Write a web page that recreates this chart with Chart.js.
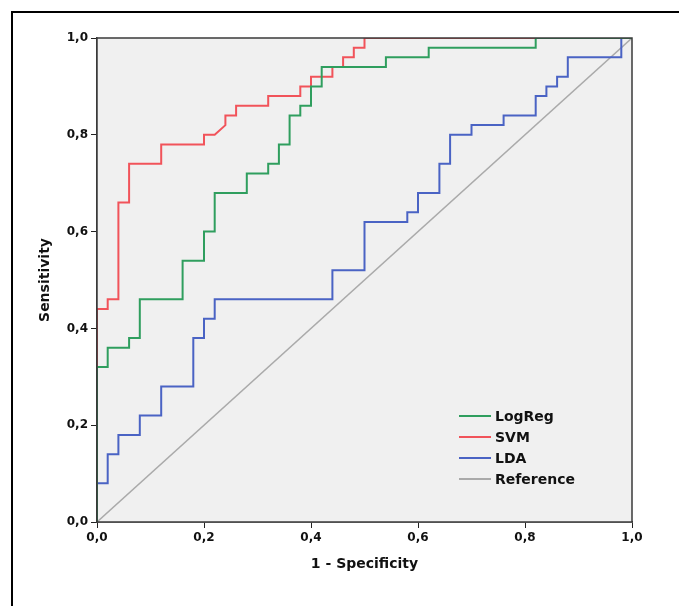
<!DOCTYPE html>
<html>
<head>
<meta charset="utf-8">
<script src="https://cdn.jsdelivr.net/npm/chart.js@4"></script>
<style>
  body { margin: 0; background: #fff; }
  #wrap { position: relative; width: 679px; height: 606px; overflow: hidden; }
  #frame { position: absolute; left: 11px; top: 11px; width: 800px; height: 800px;
           border-left: 2px solid #000; border-top: 2px solid #000; }
  canvas { position: absolute; left: 0; top: 0; }
</style>
</head>
<body>
<div id="wrap">
  <div id="frame"></div>
  <canvas id="roc" width="679" height="606"></canvas>
</div>
<script>
// ROC curve vertices (1 - specificity, sensitivity)
let logRegFpr = [0, 0, 0.02, 0.02, 0.06, 0.06, 0.08, 0.08, 0.16, 0.16, 0.20, 0.20, 0.22, 0.22, 0.28, 0.28, 0.32, 0.32, 0.34, 0.34, 0.36, 0.36, 0.38, 0.38, 0.40, 0.40, 0.42, 0.42, 0.54, 0.54, 0.62, 0.62, 0.82, 0.82, 1];
let logRegTpr = [0, 0.32, 0.32, 0.36, 0.36, 0.38, 0.38, 0.46, 0.46, 0.54, 0.54, 0.60, 0.60, 0.68, 0.68, 0.72, 0.72, 0.74, 0.74, 0.78, 0.78, 0.84, 0.84, 0.86, 0.86, 0.90, 0.90, 0.94, 0.94, 0.96, 0.96, 0.98, 0.98, 1, 1];

let svmFpr = [0, 0, 0.02, 0.02, 0.04, 0.04, 0.06, 0.06, 0.12, 0.12, 0.20, 0.20, 0.22, 0.24, 0.24, 0.26, 0.26, 0.32, 0.32, 0.38, 0.38, 0.40, 0.40, 0.44, 0.44, 0.46, 0.46, 0.48, 0.48, 0.50, 0.50, 1];
let svmTpr = [0, 0.44, 0.44, 0.46, 0.46, 0.66, 0.66, 0.74, 0.74, 0.78, 0.78, 0.80, 0.80, 0.82, 0.84, 0.84, 0.86, 0.86, 0.88, 0.88, 0.90, 0.90, 0.92, 0.92, 0.94, 0.94, 0.96, 0.96, 0.98, 0.98, 1, 1];

let ldaFpr = [0, 0, 0.02, 0.02, 0.04, 0.04, 0.08, 0.08, 0.12, 0.12, 0.18, 0.18, 0.20, 0.20, 0.22, 0.22, 0.44, 0.44, 0.50, 0.50, 0.58, 0.58, 0.60, 0.60, 0.64, 0.64, 0.66, 0.66, 0.70, 0.70, 0.76, 0.76, 0.82, 0.82, 0.84, 0.84, 0.86, 0.86, 0.88, 0.88, 0.98, 0.98, 1];
let ldaTpr = [0, 0.08, 0.08, 0.14, 0.14, 0.18, 0.18, 0.22, 0.22, 0.28, 0.28, 0.38, 0.38, 0.42, 0.42, 0.46, 0.46, 0.52, 0.52, 0.62, 0.62, 0.64, 0.64, 0.68, 0.68, 0.74, 0.74, 0.80, 0.80, 0.82, 0.82, 0.84, 0.84, 0.88, 0.88, 0.90, 0.90, 0.92, 0.92, 0.96, 0.96, 1, 1];

let refFpr = [0, 1];
let refTpr = [0, 1];

let seriesNames = ['LogReg', 'SVM', 'LDA', 'Reference'];
let seriesColors = ['#2f9e5e', '#f1535a', '#4a63c4', '#aaaaaa'];
let axisTicks = [0, 0.2, 0.4, 0.6, 0.8, 1.0];

function toPoints(xs, ys) {
    return xs.map((x, i) => ({ x: x, y: ys[i] }));
}

const curves = [
    toPoints(logRegFpr, logRegTpr),
    toPoints(svmFpr, svmTpr),
    toPoints(ldaFpr, ldaTpr),
    toPoints(refFpr, refTpr)
];

const FONT = 'DejaVu Sans';

// grey plot background + dark frame around the plot area
const plotFrame = {
    id: 'plotFrame',
    beforeDatasetsDraw(chart) {
        const { ctx, chartArea: a } = chart;
        ctx.save();
        ctx.fillStyle = '#f0f0f0';
        ctx.fillRect(a.left, a.top, a.right - a.left, a.bottom - a.top);
        ctx.restore();
    },
    afterDatasetsDraw(chart) {
        const { ctx, chartArea: a } = chart;
        ctx.save();
        ctx.strokeStyle = '#3a3a3a';
        ctx.lineWidth = 1.5;
        ctx.strokeRect(a.left, a.top, a.right - a.left, a.bottom - a.top);
        ctx.restore();
    }
};

// legend inside the plot, lower right
const insideLegend = {
    id: 'insideLegend',
    afterDraw(chart) {
        const { ctx, chartArea: a } = chart;
        const x0 = a.right - 173;
        const y0 = a.bottom - 106;
        ctx.save();
        ctx.font = 'bold 14px "' + FONT + '"';
        ctx.textBaseline = 'middle';
        chart.data.datasets.forEach((ds, i) => {
            const y = y0 + i * 21;
            ctx.strokeStyle = ds.borderColor;
            ctx.lineWidth = 2;
            ctx.beginPath();
            ctx.moveTo(x0, y);
            ctx.lineTo(x0 + 32, y);
            ctx.stroke();
            ctx.fillStyle = '#111';
            ctx.fillText(ds.label, x0 + 36, y + 1);
        });
        ctx.restore();
    }
};

function commaTick(v) {
    return v.toFixed(1).replace('.', ',');
}

new Chart(document.getElementById('roc'), {
    type: 'scatter',
    data: {
        datasets: curves.map((pts, i) => ({
            label: seriesNames[i],
            data: pts,
            showLine: true,
            borderColor: seriesColors[i],
            backgroundColor: seriesColors[i],
            borderWidth: i === 3 ? 1.5 : 2,
            pointRadius: 0,
            tension: 0
        }))
    },
    options: {
        responsive: false,
        animation: false,
        layout: { padding: { left: 0, top: 38, right: 47, bottom: 24 } },
        plugins: {
            legend: { display: false },
            tooltip: { enabled: false }
        },
        scales: {
            x: {
                type: 'linear',
                min: 0,
                max: 1,
                afterBuildTicks: s => { s.ticks = axisTicks.map(v => ({ value: v })); },
                afterFit: s => { s.height = 60; s.paddingLeft = 0; s.paddingRight = 0; },
                ticks: {
                    callback: commaTick,
                    color: '#111',
                    font: { family: FONT, size: 12, weight: 'bold' },
                    padding: 3,
                    maxRotation: 0
                },
                grid: { drawOnChartArea: false, tickLength: 6, color: '#222' },
                border: { color: '#3a3a3a', width: 1.5 },
                title: {
                    display: true,
                    text: '1 - Specificity',
                    color: '#111',
                    font: { family: FONT, size: 14, weight: 'bold' },
                    padding: { top: 0, bottom: 9 }
                }
            },
            y: {
                type: 'linear',
                min: 0,
                max: 1,
                afterBuildTicks: s => { s.ticks = axisTicks.map(v => ({ value: v })); },
                afterFit: s => { s.width = 97; s.paddingTop = 0; s.paddingBottom = 0; },
                ticks: {
                    callback: commaTick,
                    color: '#111',
                    font: { family: FONT, size: 12, weight: 'bold' },
                    padding: 3
                },
                grid: { drawOnChartArea: false, tickLength: 6, color: '#222' },
                border: { color: '#3a3a3a', width: 1.5 },
                title: {
                    display: true,
                    text: 'Sensitivity',
                    color: '#111',
                    font: { family: FONT, size: 14, weight: 'bold' },
                    padding: { top: 37, bottom: 0 }
                }
            }
        }
    },
    plugins: [plotFrame, insideLegend]
});
</script>
</body>
</html>
